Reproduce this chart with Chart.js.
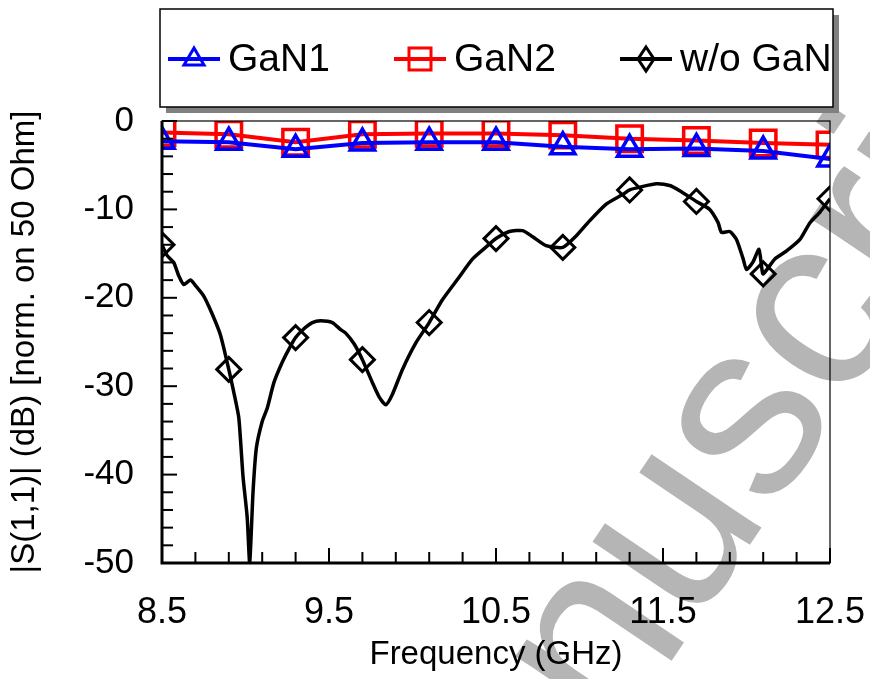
<!DOCTYPE html>
<html>
<head>
<meta charset="utf-8">
<script src="https://cdn.jsdelivr.net/npm/chart.js@4.4.0/dist/chart.umd.min.js"></script>
<style>
  html, body { margin: 0; padding: 0; background: #fff; }
  #wrap { width: 870px; height: 679px; }
</style>
</head>
<body>
<div id="wrap"><canvas id="s11-chart" width="870" height="679"></canvas></div>
<script>
// marker frequencies (GHz) shared by the two GaN curves
const markerFreq = [8.5, 8.9, 9.3, 9.7, 10.1, 10.5, 10.9, 11.3, 11.7, 12.1, 12.5];
const gan1 = [-2.3, -2.4, -3.2, -2.5, -2.4, -2.4, -2.9, -3.2, -3.1, -3.4, -4.3];
const gan2 = [-1.3, -1.5, -2.4, -1.5, -1.4, -1.4, -1.6, -2.0, -2.2, -2.5, -2.7];

// w/o GaN curve
const woFreq = [8.5, 8.53, 8.57, 8.6, 8.63, 8.67, 8.7, 8.75, 8.8, 8.85, 8.9, 8.93, 8.96, 8.985, 9.01, 9.025,
  9.045, 9.065, 9.1, 9.13, 9.17, 9.22, 9.26, 9.3, 9.35, 9.4, 9.45, 9.52, 9.57, 9.6, 9.65, 9.7, 9.76,
  9.8, 9.84, 9.88, 9.94, 10.02, 10.1, 10.18, 10.27, 10.36, 10.45, 10.5, 10.58, 10.66, 10.72, 10.8,
  10.9, 10.98, 11.06, 11.16, 11.26, 11.3, 11.38, 11.46, 11.54, 11.6, 11.7, 11.78, 11.83, 11.85, 11.9,
  11.94, 11.98, 12.0, 12.04, 12.075, 12.09, 12.1, 12.17, 12.24, 12.32, 12.38, 12.44, 12.5];
const woGan = [-14.0, -15.2, -16.0, -17.5, -18.5, -18.0, -18.6, -19.8, -21.8, -24.2, -28.1, -30.7, -33.6, -40.2, -44.8, -50.0,
  -42.0, -37.0, -34.0, -32.5, -29.6, -27.3, -25.8, -24.5, -23.5, -22.8, -22.6, -22.8, -23.6, -24.0, -25.2, -27.0, -29.6,
  -31.2, -32.1, -30.9, -28.1, -25.1, -22.8, -20.2, -17.9, -15.6, -14.1, -13.3, -12.5, -12.4, -13.1, -14.1,
  -14.3, -13.0, -11.3, -9.4, -8.3, -7.8, -7.4, -7.1, -7.3, -7.9, -9.1, -10.0, -11.5, -12.6, -12.5,
  -13.4, -15.6, -16.8, -15.9, -14.5, -16.4, -17.3, -15.6, -14.7, -13.4, -11.5, -10.3, -8.8];

const xTickLabels = [8.5, 9.5, 10.5, 11.5, 12.5];
const yTickLabels = [0, -10, -20, -30, -40, -50];

const FONT = "'Liberation Sans', Arial, sans-serif";

function isMarker(x) {
  return markerFreq.some(f => Math.abs(f - x) < 1e-6);
}

// grey diagonal watermark of the source picture
const watermark = {
  id: 'watermark',
  beforeDraw(chart) {
    const c = chart.ctx;
    const size = 250;
    c.save();
    c.font = size + 'px ' + FONT;
    c.fillStyle = '#b5b5b5';
    c.translate(678, 535);
    c.rotate(-56 * Math.PI / 180);
    const off = c.measureText('man').width + c.measureText('u').width / 2;
    c.textBaseline = 'alphabetic';
    c.fillText('manuscript', -off, 0.26 * size);
    c.restore();
  }
};

function drawMarker(c, style, x, y) {
  c.beginPath();
  if (style === 'triangle') {
    c.moveTo(x, y - 11);
    c.lineTo(x + 10, y + 6);
    c.lineTo(x - 10, y + 6);
  } else if (style === 'rect') {
    c.rect(x - 11, y - 11, 22, 22);
  } else {
    c.moveTo(x, y - 12);
    c.lineTo(x + 8, y);
    c.lineTo(x, y + 12);
    c.lineTo(x - 8, y);
  }
  c.closePath();
  c.stroke();
}

const boxLegend = {
  id: 'boxLegend',
  afterDraw(chart) {
    const c = chart.ctx;
    c.save();
    c.fillStyle = '#808080';
    c.fillRect(166, 15, 673, 98);
    c.fillStyle = '#fff';
    c.fillRect(160, 9, 673, 98);
    c.strokeStyle = '#000';
    c.lineWidth = 1.5;
    c.strokeRect(160, 9, 673, 98);
    const starts = [168, 394, 620];
    const y = 59;
    chart.data.datasets.forEach((ds, i) => {
      const x0 = starts[i];
      c.strokeStyle = ds.borderColor;
      c.lineWidth = 4;
      c.beginPath();
      c.moveTo(x0, y);
      c.lineTo(x0 + 52, y);
      c.stroke();
      c.lineWidth = 3;
      drawMarker(c, ds.pointStyle, x0 + 26, y);
      c.fillStyle = '#000';
      c.font = '39px ' + FONT;
      c.textBaseline = 'middle';
      c.fillText(ds.label, x0 + 60, y + 1);
    });
    c.restore();
  }
};

const frame = {
  id: 'frame',
  afterDatasetsDraw(chart) {
    const c = chart.ctx;
    const a = chart.chartArea;
    const xs = chart.scales.x, ys = chart.scales.y;
    c.save();
    c.strokeStyle = '#000';
    c.lineWidth = 1.2;
    c.strokeRect(a.left, a.top, a.right - a.left, a.bottom - a.top);
    c.lineWidth = 2;
    for (let k = 0; k <= 20; k++) {
      const px = xs.getPixelForValue(8.5 + k * 0.2);
      const len = k % 5 === 0 ? 15 : 11;
      c.beginPath();
      c.moveTo(px, a.bottom);
      c.lineTo(px, a.bottom - len);
      c.stroke();
    }
    for (let k = 0; k <= 25; k++) {
      const py = ys.getPixelForValue(-k * 2);
      const len = k % 5 === 0 ? 15 : 11;
      c.beginPath();
      c.moveTo(a.left, py);
      c.lineTo(a.left + len, py);
      c.stroke();
    }
    c.lineWidth = 3;
    c.beginPath();
    c.moveTo(a.left, a.top);
    c.lineTo(a.left, a.bottom);
    c.lineTo(a.right, a.bottom);
    c.stroke();
    c.restore();
  }
};

const ctx = document.getElementById('s11-chart').getContext('2d');

new Chart(ctx, {
  type: 'line',
  data: {
    datasets: [
      {
        label: 'GaN1',
        data: markerFreq.map((f, i) => ({ x: f, y: gan1[i] })),
        borderColor: '#0000ff',
        borderWidth: 4,
        pointStyle: 'triangle',
        pointRadius: 14,
        pointBorderWidth: 3.5,
        pointBackgroundColor: 'rgba(0,0,0,0)',
        pointBorderColor: '#0000ff',
        tension: 0,
        clip: 0
      },
      {
        label: 'GaN2',
        data: markerFreq.map((f, i) => ({ x: f, y: gan2[i] })),
        borderColor: '#ff0000',
        borderWidth: 4,
        pointStyle: 'rect',
        pointRadius: 18,
        pointBorderWidth: 3.5,
        pointBackgroundColor: 'rgba(0,0,0,0)',
        pointBorderColor: '#ff0000',
        tension: 0,
        clip: 0
      },
      {
        label: 'w/o GaN',
        data: woFreq.map((f, i) => ({ x: f, y: woGan[i] })),
        borderColor: '#000000',
        borderWidth: 3.5,
        pointStyle: 'rectRot',
        pointRadius: c => isMarker(c.raw.x) ? 12 : 0,
        pointBorderWidth: 3,
        pointBackgroundColor: 'rgba(0,0,0,0)',
        pointBorderColor: '#000000',
        tension: 0.2,
        clip: 0
      }
    ]
  },
  options: {
    responsive: false,
    animation: false,
    events: [],
    layout: { padding: { left: 0, right: 40, top: 121, bottom: 0 } },
    plugins: {
      legend: { display: false },
      tooltip: { enabled: false }
    },
    scales: {
      x: {
        type: 'linear',
        min: 8.5,
        max: 12.5,
        grid: { display: false, drawTicks: false },
        border: { display: false },
        afterBuildTicks: s => { s.ticks = xTickLabels.map(v => ({ value: v })); },
        afterFit: s => {
          s.height = 116;
          s.paddingLeft = 0;
          s.paddingRight = 0;
        },
        ticks: {
          color: '#000',
          padding: 28,
          maxRotation: 0,
          autoSkip: false,
          font: { family: FONT, size: 36 },
          callback: v => v.toFixed(1)
        },
        title: {
          display: true,
          text: 'Frequency (GHz)',
          color: '#000',
          padding: { top: 0, bottom: 4 },
          font: { family: FONT, size: 33 }
        }
      },
      y: {
        type: 'linear',
        min: -50,
        max: 0,
        grid: { display: false, drawTicks: false },
        border: { display: false },
        afterBuildTicks: s => { s.ticks = yTickLabels.map(v => ({ value: v })); },
        afterFit: s => {
          s.width = 162;
          s.paddingTop = 0;
          s.paddingBottom = 0;
        },
        ticks: {
          color: '#000',
          padding: 28,
          autoSkip: false,
          font: { family: FONT, size: 35 },
          callback: v => String(v)
        },
        title: {
          display: true,
          text: '|S(1,1)| (dB) [norm. on 50 Ohm]',
          color: '#000',
          padding: { top: 5, bottom: 0 },
          font: { family: FONT, size: 33 }
        }
      }
    }
  },
  plugins: [watermark, frame, boxLegend]
});
</script>
</body>
</html>
